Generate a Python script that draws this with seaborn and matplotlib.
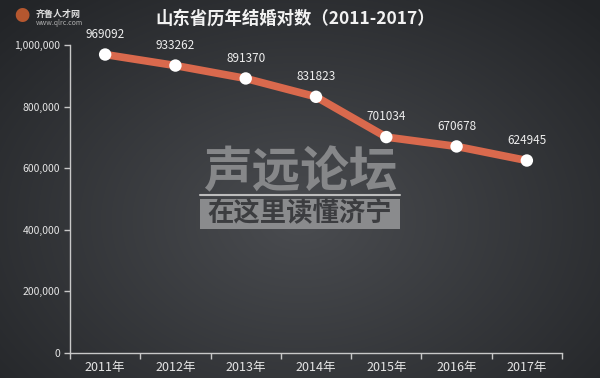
import numpy as np
import matplotlib
matplotlib.use("Agg")
import matplotlib.pyplot as plt
import matplotlib.patches as mpatches
import seaborn as sns

years = ["2011年", "2012年", "2013年", "2014年", "2015年", "2016年", "2017年"]
values = [969092, 933262, 891370, 831823, 701034, 670678, 624945]
yticks = [0, 200000, 400000, 600000, 800000, 1000000]
title = "山东省历年结婚对数（2011-2017）"

sns.set_theme(style="dark")
plt.rcParams['font.family'] = ['Noto Sans CJK SC', 'DejaVu Sans']

W, H = 600, 378
fig = plt.figure(figsize=(W / 100, H / 100), dpi=100)

# radial gradient background
bg = fig.add_axes([0, 0, 1, 1], zorder=0)
yy, xx = np.mgrid[0:H, 0:W]
d = np.sqrt(((xx - 300) / 420.0) ** 2 + ((yy - 220) / 300.0) ** 2)
d = np.clip(d, 0, 1)
c_in = np.array([0x4a, 0x4c, 0x50]) / 255
c_out = np.array([0x22, 0x24, 0x27]) / 255
img = c_in[None, None, :] * (1 - d[..., None]) + c_out[None, None, :] * d[..., None]
bg.imshow(img, extent=[0, W, H, 0], aspect='auto')
bg.set_xlim(0, W); bg.set_ylim(H, 0)
bg.axis('off')

# watermarks
bg.text(300, 173, "声远论坛", ha='center', va='center', fontsize=35, fontweight='bold',
        style='italic', color='#8e8f91', alpha=0.9)
bg.plot([200, 400], [195, 195], color='#bdbdbd', lw=1.5)
bg.add_patch(mpatches.Rectangle((200, 199), 200, 30, fc='#8a8b8d', ec='none'))
bg.text(300, 214, "在这里读懂济宁", ha='center', va='center', fontsize=19, fontweight='bold',
        color='#3c3d40')
bg.text(36, 14, "齐鲁人才网", ha='left', va='center', fontsize=6.5, color='#e0e0e0', fontweight='bold')
bg.text(36, 23, "www.qlrc.com", ha='left', va='center', fontsize=5, color='#b0b0b0')
bg.text(22, 17, "●", ha='center', va='center', fontsize=11, color='#b5572f')

ax = fig.add_axes([70 / W, 1 - 353 / H, (562 - 70) / W, (353 - 45) / H], zorder=1)
ax.set_facecolor('none')
ax.patch.set_alpha(0)

x = np.arange(len(years))
sns.lineplot(x=x, y=values, ax=ax, color='#d9694d', linewidth=5.5, sort=False, zorder=2)
ax.scatter(x, values, s=80, color='white', edgecolor='none', zorder=3)
for xi, v in zip(x, values):
    ax.annotate(f"{v}", (xi, v), xytext=(0, 10), textcoords='offset points',
                ha='center', va='bottom', fontsize=8.5, color='#eeeeee')

ax.set_xlim(-0.5, len(years) - 0.5)
ax.set_ylim(0, 1000000)
ax.set_xticks(x)
ax.set_xticklabels(years)
ax.set_xticks(np.arange(-0.5, len(years)), minor=True)
ax.set_yticks(yticks)
ax.set_yticklabels([f"{t:,}" for t in yticks])
ax.tick_params(axis='x', which='major', length=0, pad=6, labelsize=9, labelcolor='#e6e6e6')
ax.tick_params(axis='x', which='minor', length=4, color='#c8c8c8', width=1, bottom=True)
ax.tick_params(axis='y', length=4, color='#c8c8c8', width=1, left=True, pad=3,
               labelsize=7.5, labelcolor='#e6e6e6')
ax.grid(False)
for s in ['top', 'right']:
    ax.spines[s].set_visible(False)
for s in ['left', 'bottom']:
    ax.spines[s].set_visible(True)
    ax.spines[s].set_color('#c8c8c8')
    ax.spines[s].set_linewidth(1)
ax.set_xlabel(''); ax.set_ylabel('')

fig.text(295 / W, 1 - 19 / H, title, ha='center', va='center', fontsize=12.5,
         fontweight='bold', color='#f2f2f2')

fig.savefig("out.png", dpi=100)
